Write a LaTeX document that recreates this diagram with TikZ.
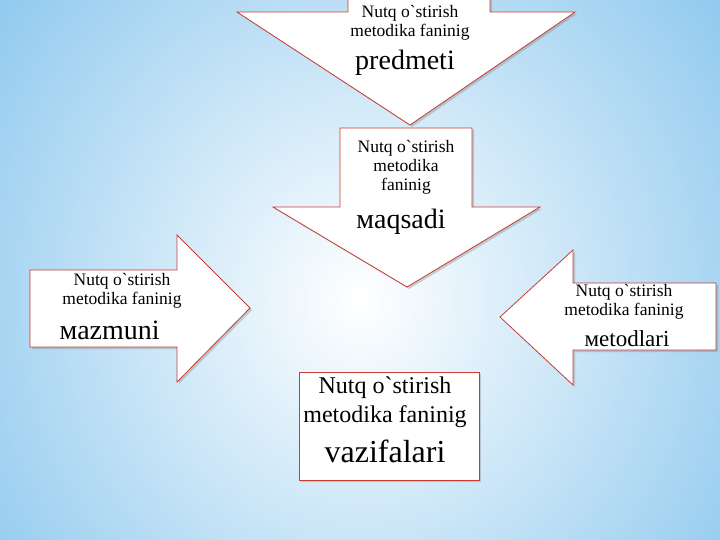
\documentclass[tikz,border=0pt]{standalone}
\usepackage{fontspec}
\setmainfont{Liberation Serif}
\usetikzlibrary{shadows}
\definecolor{sky}{RGB}{120,190,235}
\definecolor{bord}{RGB}{200,60,50}
\newcommand{\bq}{ˋ}
\begin{document}
\begin{tikzpicture}[x=1pt,y=-1pt,
  arr/.style={fill=white,draw=bord,line width=0.8pt,drop shadow={opacity=0.35,shadow xshift=2pt,shadow yshift=-2pt}},
  sm/.style={font=\fontsize{17.5}{19}\selectfont,align=center},
  bg/.style={font=\fontsize{28}{30}\selectfont}]
\useasboundingbox (0,0) rectangle (720,540);
\shade[inner color=white,outer color=sky] (-200,-300) rectangle (920,900);
\path[arr] (348,-5) -- (490,-5) -- (490,12) -- (575,12) -- (410,125) -- (237,12) -- (348,12) -- cycle;
\node[sm] (t1) at (410,23) {Nutq o\bq stirish\\metodika faninig};
\node[bg] (t2) at (405,63) {predmeti};
\path[arr] (340,128) -- (472,128) -- (472,207) -- (540,207) -- (407,287) -- (273,207) -- (340,207) -- cycle;
\node[sm] (m1) at (406,167) {Nutq o\bq stirish\\metodika\\faninig};
\node[bg] (m2) at (401,222) {мaqsadi};
\path[arr] (30,270) -- (177,270) -- (177,235) -- (250,308) -- (177,382) -- (177,347) -- (30,347) -- cycle;
\node[sm] (l1) at (122,291) {Nutq o\bq stirish\\metodika faninig};
\node[bg,anchor=west] (l2) at (56,330) {мazmuni};
\path[arr] (716,283) -- (573,283) -- (573,250) -- (500,317) -- (573,385) -- (573,350) -- (716,350) -- cycle;
\node[sm] (r1) at (624,302) {Nutq o\bq stirish\\metodika faninig};
\node[font=\fontsize{23}{25}\selectfont] (r2) at (627,339) {мetodlari};
\path[arr] (299,372) rectangle (479,480);
\node[font=\fontsize{24}{29}\selectfont,align=center] (b1) at (385,402) {Nutq o\bq stirish\\metodika faninig};
\node[font=\fontsize{32}{34}\selectfont] (b2) at (385,451) {vazifalari};
\end{tikzpicture}
\end{document}
